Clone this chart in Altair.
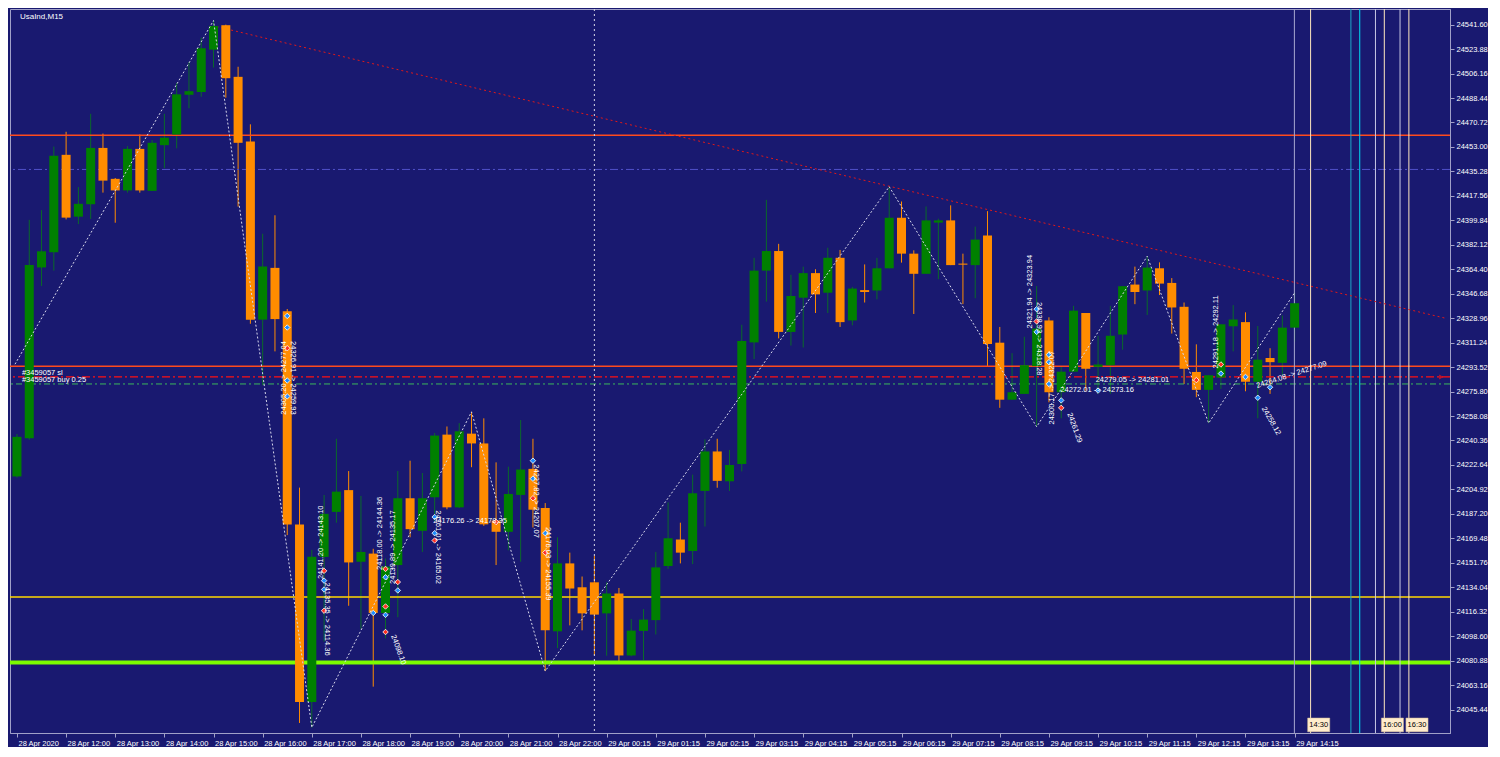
import altair as alt
import pandas as pd

# ---------------- data ----------------
opens = [24214.3, 24242.0, 24365.7, 24376.7, 24447.3, 24402.5, 24411.5, 24452.3, 24429.9, 24421.5,
         24451.6, 24421.2, 24454.3, 24462.0, 24490.8, 24492.8, 24523.5, 24541.2, 24503.8, 24457.0,
         24327.9, 24365.4, 24333.9, 24179.5, 24050.8, 24156.0, 24188.6, 24204.4, 24152.5, 24158.4,
         24115.4, 24150.1, 24198.5, 24174.9, 24199.2, 24244.6, 24191.9, 24245.3, 24238.2, 24182.4,
         24174.2, 24200.9, 24219.8, 24191.4, 24102.1, 24151.3, 24134.0, 24137.6, 24115.1, 24129.5,
         24084.6, 24102.4, 24110.2, 24149.4, 24168.6, 24160.3, 24203.8, 24232.4, 24210.8, 24223.4,
         24311.4, 24363.4, 24377.6, 24319.0, 24343.8, 24361.6, 24347.4, 24372.7, 24327.3, 24349.3,
         24349.0, 24365.1, 24401.7, 24375.7, 24361.1, 24398.2, 24399.8, 24368.5, 24367.4, 24388.8,
         24311.2, 24269.9, 24274.1, 24294.2, 24327.3, 24275.3, 24290.2, 24332.7, 24293.7, 24294.9,
         24317.1, 24353.3, 24349.0, 24365.1, 24354.5, 24337.2, 24290.0, 24277.0, 24285.9, 24323.1,
         24326.1, 24282.9, 24300.1, 24296.6, 24322.1]
highs = [24245.0, 24400.2, 24407.2, 24453.3, 24464.0, 24423.9, 24477.0, 24462.7, 24430.5, 24453.6,
         24462.0, 24458.0, 24477.0, 24499.4, 24514.5, 24532.2, 24544.6, 24541.6, 24511.1, 24469.4,
         24390.1, 24403.5, 24335.6, 24206.2, 24161.1, 24200.9, 24241.6, 24218.2, 24200.2, 24161.9,
         24154.8, 24218.2, 24225.7, 24216.8, 24245.8, 24250.5, 24252.9, 24261.1, 24256.4, 24224.5,
         24221.4, 24255.2, 24241.6, 24195.0, 24170.2, 24159.1, 24141.8, 24156.7, 24137.6, 24133.5,
         24111.1, 24118.2, 24159.6, 24195.5, 24180.8, 24215.6, 24241.1, 24241.6, 24233.5, 24324.2,
         24372.7, 24414.7, 24382.8, 24360.4, 24366.3, 24364.4, 24380.0, 24378.4, 24351.6, 24367.9,
         24372.7, 24424.2, 24413.5, 24378.1, 24409.9, 24401.0, 24410.7, 24375.7, 24395.3, 24406.5,
         24322.6, 24303.6, 24315.5, 24352.2, 24329.6, 24294.2, 24337.9, 24332.7, 24316.2, 24337.9,
         24352.1, 24366.3, 24373.8, 24369.4, 24358.0, 24340.3, 24310.0, 24287.6, 24324.5, 24338.4,
         24333.2, 24323.3, 24307.2, 24330.9, 24347.4]
lows = [24213.5, 24241.0, 24352.3, 24363.4, 24400.5, 24397.1, 24400.8, 24419.9, 24398.1, 24419.9,
        24419.9, 24421.2, 24437.6, 24452.0, 24481.0, 24489.4, 24510.5, 24488.7, 24409.8, 24324.9,
        24280.4, 24304.9, 24171.8, 24035.7, 24032.4, 24094.6, 24180.8, 24120.6, 24104.0, 24062.0,
        24097.0, 24112.3, 24170.2, 24159.6, 24182.0, 24190.5, 24191.4, 24221.0, 24178.5, 24150.1,
        24160.8, 24152.5, 24177.3, 24073.3, 24089.9, 24106.4, 24102.8, 24085.1, 24084.4, 24079.2,
        24084.0, 24081.1, 24099.8, 24147.3, 24151.3, 24150.8, 24178.0, 24206.1, 24203.8, 24217.9,
        24299.4, 24341.0, 24314.3, 24309.1, 24307.7, 24332.7, 24332.7, 24322.6, 24323.8, 24340.3,
        24342.6, 24365.1, 24369.2, 24332.0, 24361.1, 24357.2, 24367.4, 24339.1, 24343.4, 24294.3,
        24264.0, 24269.9, 24274.1, 24250.3, 24268.0, 24256.4, 24290.2, 24276.5, 24274.1, 24274.1,
        24306.1, 24339.1, 24331.3, 24345.7, 24317.8, 24281.2, 24271.7, 24252.9, 24277.7, 24304.9,
        24276.0, 24256.4, 24274.1, 24287.6, 24311.9]
closes = [24243.0, 24367.4, 24377.4, 24446.6, 24401.8, 24411.8, 24452.3, 24428.6, 24421.5, 24451.6,
          24421.5, 24456.0, 24459.7, 24491.1, 24493.4, 24524.5, 24540.6, 24502.8, 24456.0, 24327.9,
          24366.4, 24328.3, 24179.5, 24050.8, 24156.1, 24187.2, 24203.3, 24152.0, 24159.6, 24115.4,
          24149.0, 24198.5, 24176.1, 24198.5, 24243.9, 24191.9, 24247.0, 24238.2, 24179.6, 24174.2,
          24201.6, 24219.3, 24190.2, 24102.8, 24151.3, 24133.1, 24115.1, 24114.2, 24129.5, 24084.6,
          24102.6, 24110.6, 24148.4, 24169.5, 24159.1, 24202.1, 24232.4, 24211.1, 24222.6, 24312.4,
          24363.4, 24377.6, 24319.0, 24345.0, 24361.6, 24346.2, 24372.7, 24326.1, 24350.4, 24347.9,
          24365.1, 24401.7, 24375.7, 24361.1, 24399.8, 24399.8, 24367.4, 24367.7, 24385.9, 24310.3,
          24269.9, 24275.3, 24294.9, 24321.4, 24275.3, 24290.2, 24334.4, 24292.3, 24295.4, 24316.2,
          24352.1, 24347.9, 24365.6, 24354.0, 24336.7, 24292.3, 24277.0, 24287.6, 24324.5, 24328.0,
          24282.9, 24298.9, 24297.1, 24322.1, 24339.8]
bar_index = list(range(len(opens)))

x_tick_bars = list(range(0, 105, 4))
x_tick_labels = ["28 Apr 2020", "28 Apr 12:00", "28 Apr 13:00", "28 Apr 14:00", "28 Apr 15:00",
                 "28 Apr 16:00", "28 Apr 17:00", "28 Apr 18:00", "28 Apr 19:00", "28 Apr 20:00",
                 "28 Apr 21:00", "28 Apr 22:00", "29 Apr 00:15", "29 Apr 01:15", "29 Apr 02:15",
                 "29 Apr 03:15", "29 Apr 04:15", "29 Apr 05:15", "29 Apr 06:15", "29 Apr 07:15",
                 "29 Apr 08:15", "29 Apr 09:15", "29 Apr 10:15", "29 Apr 11:15", "29 Apr 12:15",
                 "29 Apr 13:15", "29 Apr 14:15"]
y_tick_values = [24045.44, 24063.16, 24080.88, 24098.60, 24116.32, 24134.04, 24151.76, 24169.48,
                 24187.20, 24204.92, 24222.64, 24240.36, 24258.08, 24275.80, 24293.52, 24311.24,
                 24328.96, 24346.68, 24364.40, 24382.12, 24399.84, 24417.56, 24435.28, 24453.00,
                 24470.72, 24488.44, 24506.16, 24523.88, 24541.60]

x_domain = [-0.16, 116.24]
y_domain = [24028.43, 24552.94]

# horizontal levels
hline_prices = [24461.5, 24436.7, 24294.2, 24286.4, 24281.3, 24126.9, 24079.5]
hline_colors = ["#ff4a1c", "#5050c8", "#ff4a1c", "#ff1010", "#3cb85a", "#ffd800", "#7cfc00"]
hline_dashes = [[1, 0], [8, 3, 2, 3], [1, 0], [8, 3, 2, 3], [6, 3, 2, 3], [1, 0], [1, 0]]
hline_widths = [1.5, 1, 1.5, 1.3, 1, 1.5, 4]

# zigzag
zig_bars = [-0.16, 16, 24, 37, 43, 71, 83, 92, 97, 104]
zig_prices = [24295.6, 24544.6, 24032.4, 24261.1, 24073.3, 24424.2, 24250.3, 24373.8, 24252.9, 24347.4]

# trend line
trend_bars = [16.24, 116.24]
trend_prices = [24540.2, 24329.0]

# day separator
sep_bars = [47]

# vertical time lines on the right
vline_bars = [103.98, 105.30, 108.58, 109.30, 110.58, 111.30, 112.58, 113.30]
vline_colors = ["#a8a8d0", "#ffe8c0", "#1fa6c6", "#00dcf4", "#c8c8e4", "#ffe8c0", "#c8c8e4", "#ffe8c0"]

tag_bars = [105.30, 111.30, 113.30]
tag_labels = ["14:30", "16:00", "16:30"]
tag_top = 24039.3
tag_bottom = 24029.3

# trade markers
mark_bars = [25, 25, 25, 25, 29, 30, 30, 30, 30, 30, 31, 31, 34, 34, 34, 39, 42, 42, 42, 43, 43,
             22, 22, 22, 22, 22, 83, 83, 83, 84, 84, 84, 85, 85, 88, 96, 98, 98, 100, 101, 102]
mark_prices = [24145.9, 24138.8, 24132.4, 24117.0, 24115.4, 24147.3, 24141.3, 24120.1, 24114.0, 24101.6,
               24137.8, 24131.7, 24184.9, 24173.2, 24167.9, 24181.3, 24225.7, 24212.7, 24198.5, 24173.2,
               24159.1, 24330.6, 24322.2, 24307.2, 24283.8, 24272.3, 24335.5, 24326.6, 24319.0, 24302.5,
               24297.1, 24281.3, 24269.4, 24264.0, 24276.5, 24284.1, 24295.4, 24288.8, 24286.4, 24271.3,
               24278.9]
mark_kind = ["r", "b", "b", "r", "b", "r", "b", "r", "b", "r", "r", "b", "b", "b", "r", "r", "b", "b", "r",
             "b", "r", "b", "b", "r", "b", "b", "b", "r", "b", "b", "b", "b", "b", "r", "b", "r", "r", "b",
             "b", "b", "b"]

# trade annotation texts
ann_texts = ["24141.20 -> 24143.10", "24135.35 -> 24114.36", "24118.00 -> 24144.36", "24139.89 -> 24135.17",
             "24098.10", "24176.26 -> 24178.35", "24161.01 -> 24165.02", "24227.82 -> 24207.07",
             "24176.03 -> 24155.39", "24305.20 -> 24277.04", "24326.91 -> 24259.93",
             "24321.94 -> 24323.94", "24338.93 -> 24318.28", "24300.17 -> 24322.07",
             "24272.01 -> 24273.16", "24279.05 -> 24281.01", "24261.29", "24291.18 -> 24292.11",
             "24264.08 -> 24277.09", "24258.12"]
ann_bars = [24.72, 25.2, 29.58, 30.64, 31.04, 36.88, 34.24, 42.24, 43.26, 21.76, 22.48,
            82.48, 83.2, 84.24, 87.92, 90.8, 86.08, 97.6, 103.76, 102.08]
ann_prices = [24166.6, 24111.0, 24173.0, 24163.1, 24088.7, 24182.2, 24163.1, 24196.4, 24151.1, 24285.7,
              24285.7, 24348.1, 24314.1, 24278.6, 24277.2, 24284.3, 24249.6, 24319.0, 24287.9, 24254.5]
ann_angles = [270, 90, 270, 270, 70, 0, 90, 90, 90, 270, 90, 270, 90, 270, 0, 0, 70, 270, 342, 60]

title_text = "UsaInd,M15"
order_texts = ["#3459057 sl", "#3459057 buy 0.25"]
order_prices = [24289.5, 24284.5]

# ---------------- styles ----------------
W, H = 1440, 724
BG = "#191970"
FRAME = "#a0a0c8"
FONT = "Liberation Sans"
FS = 7.5

xs = alt.Scale(domain=x_domain, nice=False, zero=False)
ys = alt.Scale(domain=y_domain, nice=False, zero=False)

label_js = "[" + ",".join("'%s'" % s for s in x_tick_labels) + "][round(datum.value/4)]"
x_axis = alt.Axis(values=x_tick_bars, labelExpr=label_js, labelAlign="left", labelBaseline="top",
                  labelPadding=2, labelOffset=1, tickSize=4, labelColor="#ffffff", labelFontSize=FS,
                  labelFont=FONT, domainColor=FRAME, tickColor=FRAME, grid=False, labelFlush=False,
                  labelOverlap=False, title=None)
y_axis = alt.Axis(orient="right", values=y_tick_values, format=".2f", tickSize=4, labelPadding=2,
                  labelColor="#ffffff", labelFontSize=FS, labelFont=FONT, domainColor=FRAME,
                  tickColor=FRAME, grid=False, labelFlush=False, labelOverlap=False, title=None)


def X(f):
    return alt.X(f, type="quantitative", scale=xs, axis=x_axis)


def Y(f):
    return alt.Y(f, type="quantitative", scale=ys, axis=y_axis)


candles = pd.DataFrame({"i": bar_index, "o": opens, "h": highs, "l": lows, "c": closes})
candles["col"] = ["#008000" if c >= o else "#ff8c00" for o, c in zip(opens, closes)]
candles["wcol"] = ["#0a6a2a" if c >= o else "#ff8c00" for o, c in zip(opens, closes)]

layers = []

# candles first (carries both axes)
layers.append(alt.Chart(candles).mark_rule(strokeWidth=1)
              .encode(x=X("i"), y=Y("l"), y2="h", color=alt.Color("wcol:N", scale=None)))

# horizontal levels
for p, col, d, w in zip(hline_prices, hline_colors, hline_dashes, hline_widths):
    layers.append(alt.Chart(pd.DataFrame({"p": [p]})).mark_rule(color=col, strokeDash=d, strokeWidth=w)
                  .encode(y=Y("p")))

# vertical lines
vl = pd.DataFrame({"b": vline_bars, "col": vline_colors})
layers.append(alt.Chart(vl).mark_rule(strokeWidth=1).encode(x=X("b"), color=alt.Color("col:N", scale=None)))
layers.append(alt.Chart(pd.DataFrame({"b": sep_bars})).mark_rule(color="#d8d8e8", strokeDash=[2, 3], strokeWidth=1)
              .encode(x=X("b")))

# trend line
layers.append(alt.Chart(pd.DataFrame({"b": trend_bars, "p": trend_prices}))
              .mark_line(color="#e01818", strokeDash=[2, 3], strokeWidth=1, clip=True)
              .encode(x=X("b"), y=Y("p")))

# candle bodies
layers.append(alt.Chart(candles).mark_bar(size=9)
              .encode(x=X("i"), y=Y("o"), y2="c", color=alt.Color("col:N", scale=None)))

# zigzag
layers.append(alt.Chart(pd.DataFrame({"b": zig_bars, "p": zig_prices}))
              .mark_line(color="#d8d8ec", strokeDash=[2, 2], strokeWidth=1, clip=True)
              .encode(x=X("b"), y=Y("p"), order="b:Q"))

# trade markers
mk = pd.DataFrame({"b": mark_bars, "p": mark_prices,
                   "col": ["#ff3020" if k == "r" else "#1e8cff" for k in mark_kind]})
layers.append(alt.Chart(mk).mark_point(shape="diamond", filled=True, size=30, stroke="#ffffff",
                                       strokeWidth=0.8, opacity=1)
              .encode(x=X("b"), y=Y("p"), fill=alt.Fill("col:N", scale=None)))

# arrow at end of sl line
layers.append(alt.Chart(pd.DataFrame({"b": [x_domain[1] - 0.3], "p": [hline_prices[3]]}))
              .mark_point(shape="triangle-right", filled=True, size=25, color="#ff1010")
              .encode(x=X("b"), y=Y("p")))

# annotation texts
ann = pd.DataFrame({"t": ann_texts, "b": ann_bars, "p": ann_prices, "a": ann_angles})
layers.append(alt.Chart(ann).mark_text(color="#ffffff", font=FONT, fontSize=FS, align="center",
                                       baseline="middle")
              .encode(x=X("b"), y=Y("p"), text="t:N", angle=alt.Angle("a:Q", scale=None)))

# time tags
tg = pd.DataFrame({"b": tag_bars, "t": tag_labels})
layers.append(alt.Chart(tg).transform_calculate(x0="datum.b - 0.24", x1="datum.b + 1.56",
                                                 top=str(tag_top), bot=str(tag_bottom))
              .mark_rect(color="#ffeccc", stroke="#d0b890", strokeWidth=0.5)
              .encode(x=X("x0:Q"), x2="x1:Q", y=Y("top:Q"), y2="bot:Q"))
layers.append(alt.Chart(tg).transform_calculate(xm="datum.b + 0.66", ym=str((tag_top + tag_bottom) / 2))
              .mark_text(color="#000000", font=FONT, fontSize=FS, align="center", baseline="middle")
              .encode(x=X("xm:Q"), y=Y("ym:Q"), text="t:N"))

# title and order labels
layers.append(alt.Chart(pd.DataFrame({"t": [title_text], "b": [0.24], "p": [24547.3]}))
              .mark_text(color="#ffffff", font=FONT, fontSize=8, align="left", baseline="middle")
              .encode(x=X("b"), y=Y("p"), text="t:N"))
layers.append(alt.Chart(pd.DataFrame({"t": order_texts, "b": [0.4, 0.4], "p": order_prices}))
              .mark_text(color="#ffffff", font=FONT, fontSize=FS, align="left", baseline="middle")
              .encode(x=X("b"), y=Y("p"), text="t:N"))

chart = (alt.layer(*layers)
         .properties(width=W, height=H, background=BG, padding=0)
         .configure_view(stroke=FRAME, strokeWidth=1))

chart.save("out.html", embed_options={"renderer": "svg", "actions": False})
